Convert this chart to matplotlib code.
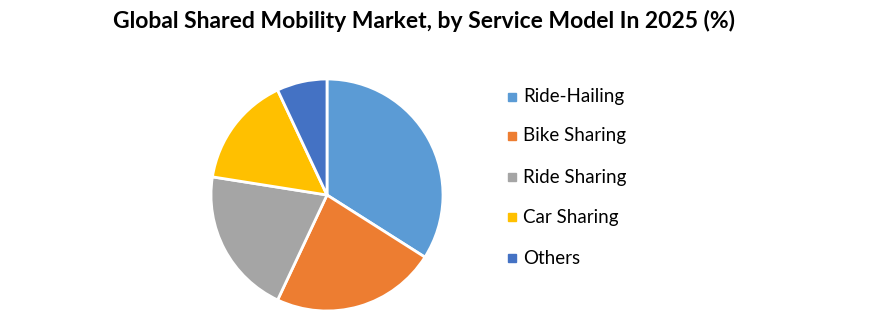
import matplotlib
matplotlib.use("Agg")
import matplotlib.pyplot as plt

categories = ["Ride-Hailing", "Bike Sharing", "Ride Sharing", "Car Sharing", "Others"]
shares = [34.0, 23.0, 20.5, 15.5, 7.0]
colors = ["#5B9BD5", "#ED7D31", "#A5A5A5", "#FFC000", "#4472C4"]
title = "Global Shared Mobility Market, by Service Model In 2025 (%)"

plt.rcParams['font.family'] = ['Lato', 'DejaVu Sans']

W, H = 876, 319
fig = plt.figure(figsize=(W/100, H/100), dpi=100)
cx, cy, r = 327, 195, 116
ax = fig.add_axes([(cx - r)/W, (H - cy - r)/H, 2*r/W, 2*r/H])
ax.pie(shares, colors=colors, startangle=90, counterclock=False,
       wedgeprops=dict(edgecolor="white", linewidth=2))
ax.set_xlim(-1, 1)
ax.set_ylim(-1, 1)
ax.set_aspect('equal')
ax.axis('off')

fig.text(424/W, 1 - 21/H, title, ha='center', va='center',
         fontsize=16.5, fontweight='bold')

ys = [97, 136, 177, 217, 258]
for lab, col, y in zip(categories, colors, ys):
    fig.patches.append(plt.Rectangle((508/W, 1 - (y + 4)/H), 8/W, 8/H,
                                     transform=fig.transFigure, color=col, figure=fig))
    fig.text(523/W, 1 - y/H, lab, ha='left', va='center', fontsize=13.5)

fig.savefig("out.png", dpi=100, facecolor="white")
